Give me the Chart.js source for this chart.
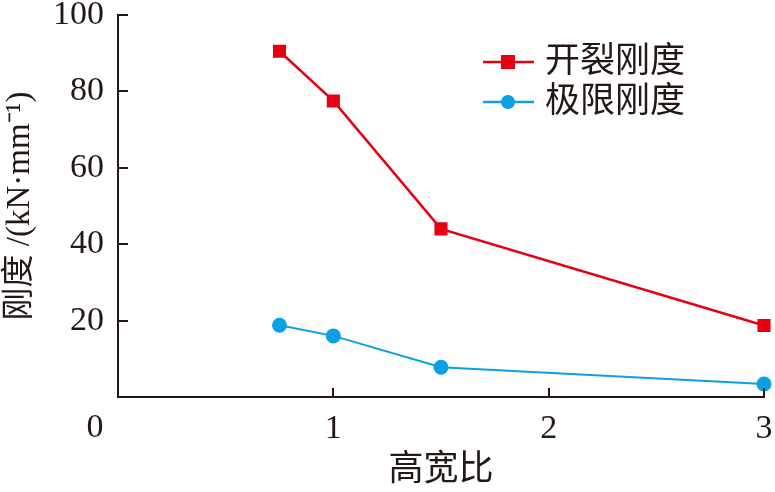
<!DOCTYPE html>
<html><head><meta charset="utf-8">
<script src="https://cdn.jsdelivr.net/npm/chart.js@4/dist/chart.umd.min.js"></script>
<style>html,body{margin:0;padding:0;background:#fff}#w{width:775px;height:492px}</style>
</head><body><div id="w"><canvas id="c"></canvas></div>
<script>
const xValues = [0.75, 1, 1.5, 3];
const crackStiffness = [90.5, 77.5, 44.0, 18.7];
const ultimateStiffness = [18.8, 16.0, 7.8, 3.4];
const seriesNames = ['开裂刚度', '极限刚度'];
const xTitle = '高宽比';
const yTitle = '刚度 /(kN·mm⁻¹)';
const xTicks = [1, 2, 3];
const yTicks = [20, 40, 60, 80, 100];

const RED = '#e60012', BLUE = '#0ca0e4', INK = '#231815';
const serif = "'Liberation Serif','Noto Sans CJK SC',serif";

const toPts = ys => xValues.map((x, i) => ({x, y: ys[i]}));

const customDraw = {
  id: 'customDraw',
  afterDraw(chart) {
    const ctx = chart.ctx, xs = chart.scales.x, ys = chart.scales.y;
    const ca = chart.chartArea;
    ctx.save();
    ctx.strokeStyle = INK; ctx.lineWidth = 2;
    yTicks.forEach(v => {
      const p = Math.round(ys.getPixelForValue(v));
      ctx.beginPath(); ctx.moveTo(ca.left, p); ctx.lineTo(ca.left + 10, p); ctx.stroke();
    });
    xTicks.forEach(v => {
      const p = Math.round(xs.getPixelForValue(v));
      ctx.beginPath(); ctx.moveTo(p, ca.bottom); ctx.lineTo(p, ca.bottom - 9); ctx.stroke();
    });
    ctx.fillStyle = INK; ctx.font = '34px ' + serif;
    ctx.textAlign = 'center'; ctx.textBaseline = 'middle';
    ctx.fillText('0', xs.getPixelForValue(0) - 23, ca.bottom + 31);
    const items = [
      {name: seriesNames[0], color: RED, style: 'rect'},
      {name: seriesNames[1], color: BLUE, style: 'circle'}
    ];
    items.forEach((it, i) => {
      const y = 62 + i * 40;
      ctx.strokeStyle = it.color; ctx.lineWidth = 2.5;
      ctx.beginPath(); ctx.moveTo(483, y); ctx.lineTo(534, y); ctx.stroke();
      ctx.fillStyle = it.color;
      if (it.style === 'rect') ctx.fillRect(508 - 7, y - 7, 14, 14);
      else { ctx.beginPath(); ctx.arc(508, y, 7, 0, Math.PI * 2); ctx.fill(); }
      ctx.fillStyle = INK; ctx.font = '35px ' + serif;
      ctx.textAlign = 'left'; ctx.textBaseline = 'middle';
      ctx.fillText(it.name, 545, y + 1);
    });
    ctx.restore();
  }
};

new Chart(document.getElementById('c'), {
  type: 'scatter',
  data: {
    datasets: [
      {label: seriesNames[0], data: toPts(crackStiffness), showLine: true, clip: false,
       borderColor: RED, backgroundColor: RED, borderWidth: 2.5,
       pointStyle: 'rect', pointRadius: 7.5, pointHoverRadius: 7.5},
      {label: seriesNames[1], data: toPts(ultimateStiffness), showLine: true, clip: false,
       borderColor: BLUE, backgroundColor: BLUE, borderWidth: 2,
       pointStyle: 'circle', pointRadius: 6.5, pointHoverRadius: 6.5}
    ]
  },
  options: {
    responsive: true, maintainAspectRatio: false, animation: false,
    layout: {padding: {top: 15, right: 11, left: 0, bottom: 0}},
    plugins: {legend: {display: false}, tooltip: {enabled: false}},
    scales: {
      x: {
        type: 'linear', min: 0, max: 3,
        afterBuildTicks: s => { s.ticks = xTicks.map(v => ({value: v})); },
        afterFit: s => { s.height = 95; s.paddingLeft = 0; s.paddingRight = 0; },
        grid: {display: false, drawTicks: false},
        border: {display: true, color: INK, width: 2},
        ticks: {color: INK, font: {family: serif, size: 34}, padding: 12, maxRotation: 0},
        title: {display: true, text: xTitle, color: INK, font: {family: serif, size: 35}, padding: {top: 0, bottom: 0}}
      },
      y: {
        min: 0, max: 100,
        afterBuildTicks: s => { s.ticks = yTicks.map(v => ({value: v})); },
        afterFit: s => { s.width = 118; s.paddingTop = 0; s.paddingBottom = 0; },
        grid: {display: false, drawTicks: false},
        border: {display: true, color: INK, width: 2},
        ticks: {color: INK, font: {family: serif, size: 34}, padding: 14},
        title: {display: true, text: yTitle, color: INK, font: {family: serif, size: 33}, padding: {top: 1, bottom: 0}}
      }
    }
  },
  plugins: [customDraw]
});
</script></body></html>
